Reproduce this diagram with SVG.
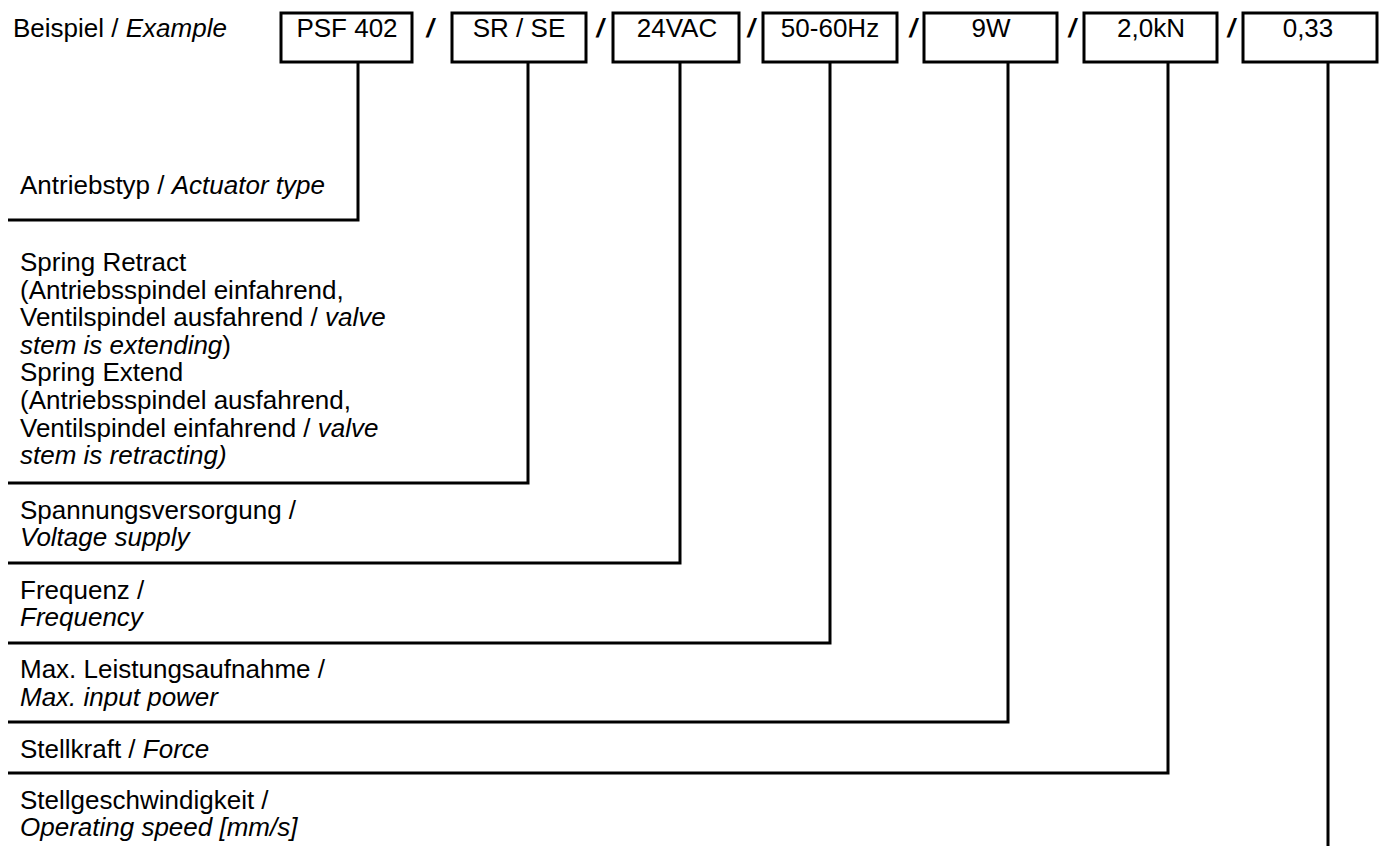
<svg xmlns="http://www.w3.org/2000/svg" width="1382" height="846" viewBox="0 0 1382 846">
<style>
text{font-family:"Liberation Sans",Arial,sans-serif;font-size:26px;fill:#000}
.it{font-style:italic}
.c{text-anchor:middle}
.sl{font-weight:bold;font-style:italic;text-anchor:middle}
.box{fill:#fff;stroke:#000;stroke-width:3}
.ln{fill:none;stroke:#000;stroke-width:3}
</style>
<rect width="1382" height="846" fill="#fff"/>
<g id="header">
<text x="13" y="37">Beispiel / <tspan class="it">Example</tspan></text>
<text class="sl" x="430" y="37">/</text>
<text class="sl" x="600" y="37">/</text>
<text class="sl" x="751" y="37">/</text>
<text class="sl" x="913" y="37">/</text>
<text class="sl" x="1072" y="37">/</text>
<text class="sl" x="1231" y="37">/</text>
</g>
<g id="connectors">
<polyline class="ln" points="358,62 358,220 8,220"/>
<polyline class="ln" points="528,62 528,483 8,483"/>
<polyline class="ln" points="680,62 680,563 8,563"/>
<polyline class="ln" points="830,62 830,643 8,643"/>
<polyline class="ln" points="1008,62 1008,722 8,722"/>
<polyline class="ln" points="1168,62 1168,773 8,773"/>
<polyline class="ln" points="1328,62 1328,846"/>
</g>
<g id="box-psf"><rect class="box" x="281" y="13" width="131" height="49"/><text class="c" x="347" y="37">PSF 402</text></g>
<g id="box-srse"><rect class="box" x="452" y="13" width="134" height="49"/><text class="c" x="519" y="37">SR / SE</text></g>
<g id="box-24vac"><rect class="box" x="613" y="13" width="126" height="49"/><text class="c" x="677" y="37">24VAC</text></g>
<g id="box-hz"><rect class="box" x="763" y="13" width="134" height="49"/><text class="c" x="830" y="37">50-60Hz</text></g>
<g id="box-w"><rect class="box" x="924" y="13" width="133" height="49"/><text class="c" x="991" y="37">9W</text></g>
<g id="box-kn"><rect class="box" x="1084" y="13" width="133" height="49"/><text class="c" x="1151" y="37">2,0kN</text></g>
<g id="box-speed"><rect class="box" x="1243" y="13" width="134" height="49"/><text class="c" x="1308" y="37">0,33</text></g>
<g id="label-type"><text x="20" y="194">Antriebstyp / <tspan class="it">Actuator type</tspan></text></g>
<g id="label-srse">
<text x="20" y="271">Spring Retract</text>
<text x="20" y="298.6">(Antriebsspindel einfahrend,</text>
<text x="20" y="326.2">Ventilspindel ausfahrend / <tspan class="it">valve</tspan></text>
<text x="20" y="353.8"><tspan class="it">stem is extending</tspan>)</text>
<text x="20" y="381.4">Spring Extend</text>
<text x="20" y="409">(Antriebsspindel ausfahrend,</text>
<text x="20" y="436.6">Ventilspindel einfahrend / <tspan class="it">valve</tspan></text>
<text x="20" y="464.2" class="it">stem is retracting)</text>
</g>
<g id="label-voltage"><text x="20" y="519">Spannungsversorgung /</text><text x="20" y="546" class="it">Voltage supply</text></g>
<g id="label-freq"><text x="20" y="599">Frequenz /</text><text x="20" y="626" class="it">Frequency</text></g>
<g id="label-power"><text x="20" y="678">Max. Leistungsaufnahme /</text><text x="20" y="706" class="it">Max. input power</text></g>
<g id="label-force"><text x="20" y="758">Stellkraft / <tspan class="it">Force</tspan></text></g>
<g id="label-speed"><text x="20" y="809">Stellgeschwindigkeit /</text><text x="20" y="836" class="it">Operating speed [mm/s]</text></g>
</svg>
